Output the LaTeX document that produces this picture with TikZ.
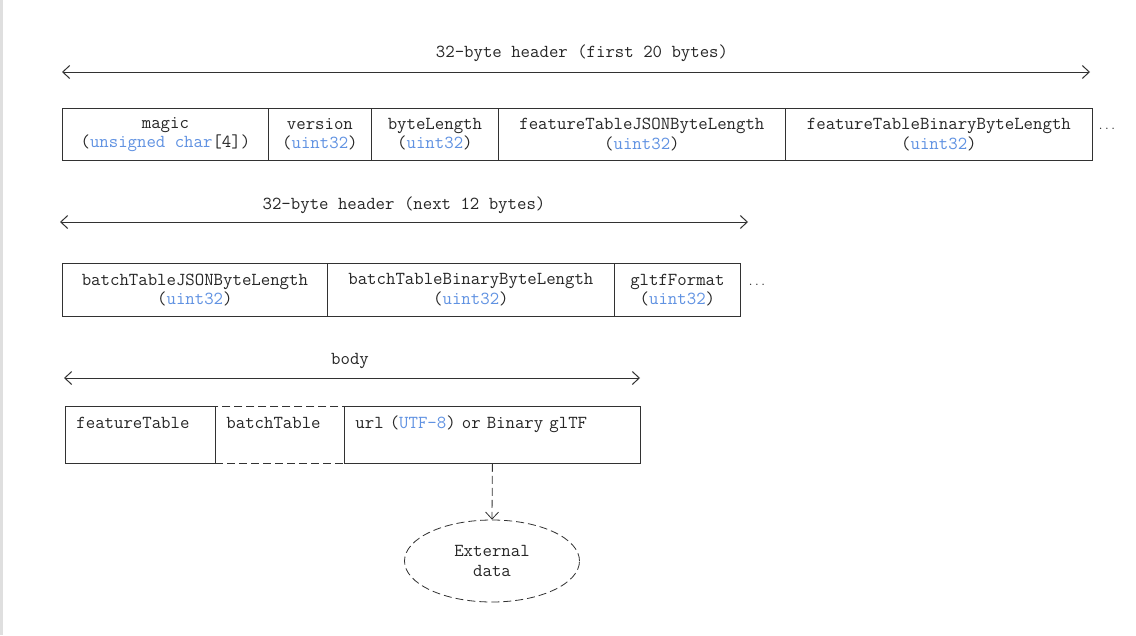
\documentclass[tikz,border=0pt]{standalone}
\usepackage{fontspec}
\usetikzlibrary{arrows.meta,shapes.geometric}
\definecolor{typeblue}{RGB}{96,146,226}
\definecolor{edgegray}{RGB}{50,50,50}
\newcommand{\tb}[1]{\textcolor{typeblue}{#1}}
\begin{document}
\begin{tikzpicture}[x=1pt,y=-1pt,
  every node/.style={font=\ttfamily\fontsize{18.3}{19.5}\selectfont, text=black!85},
  field/.style={draw=edgegray, line width=0.8pt, minimum height=52, inner sep=0, align=center, anchor=north west},
  bodybox/.style={draw=edgegray, line width=0.8pt, inner xsep=11, inner ysep=0, text height=22, text depth=35, align=left, anchor=north west},
  dim/.style={draw=edgegray, line width=1pt, {Straight Barb[length=7pt,width=13pt]}-{Straight Barb[length=7pt,width=13pt]}},
  dashline/.style={dash pattern=on 8pt off 4pt},
  dots/.style={font=\ttfamily\fontsize{12}{12}\selectfont}
]
\useasboundingbox (0,0) rectangle (1136,635);
\fill[white] (0,0) rectangle (1136,635);
\fill[gray!25] (0,0) rectangle (2.5,635);

% header first 20 bytes
\node (h1) at (582,53) {32-byte header (first 20 bytes)};
\coordinate (h1l) at (62,72);
\coordinate (h1r) at (1090,72);
\draw[dim] (h1l) -- (h1r);

\node[field, minimum width=206] (magic) at (62,108) {magic\\(\tb{unsigned char}[4])};
\node[field, minimum width=103] (version) at (268,108) {version\\(\tb{uint32})};
\node[field, minimum width=127] (bytelen) at (371,108) {byteLength\\(\tb{uint32})};
\node[field, minimum width=287] (ftjson) at (498,108) {featureTableJSONByteLength\\(\tb{uint32})};
\node[field, minimum width=307] (ftbin) at (785,108) {featureTableBinaryByteLength\\(\tb{uint32})};
\node[dots] (dots1) at (1107,129) {...};

% header next 12 bytes
\node (h2) at (404,205) {32-byte header (next 12 bytes)};
\coordinate (h2l) at (60,222);
\coordinate (h2r) at (748,222);
\draw[dim] (h2l) -- (h2r);

\node[field, minimum width=265, minimum height=53] (btjson) at (62,263) {batchTableJSONByteLength\\(\tb{uint32})};
\node[field, minimum width=287, minimum height=53] (btbin) at (327,263) {batchTableBinaryByteLength\\(\tb{uint32})};
\node[field, minimum width=126, minimum height=53] (gltf) at (614,263) {gltfFormat\\(\tb{uint32})};
\node[dots] (dots2) at (757,285) {...};

% body
\node (h3) at (350,361) {body};
\coordinate (h3l) at (64,378);
\coordinate (h3r) at (640,378);
\draw[dim] (h3l) -- (h3r);

\node[bodybox, dashline, text width=107] (bt) at (215,406) {batchTable};
\node[bodybox, text width=128] (ft) at (65,406) {featureTable};
\node[bodybox, text width=274] (url) at (344,406) {url (\tb{UTF-8}) or Binary glTF};

\node[ellipse, draw=edgegray, line width=0.8pt, dashline, minimum width=175, minimum height=82, align=center, inner sep=0] (ext) at (492,561) {External\\data};
\draw[draw=edgegray, line width=0.8pt, dashline, -{Straight Barb[length=7pt,width=13pt]}] (url.south) -- (ext.north);
\end{tikzpicture}
\end{document}
